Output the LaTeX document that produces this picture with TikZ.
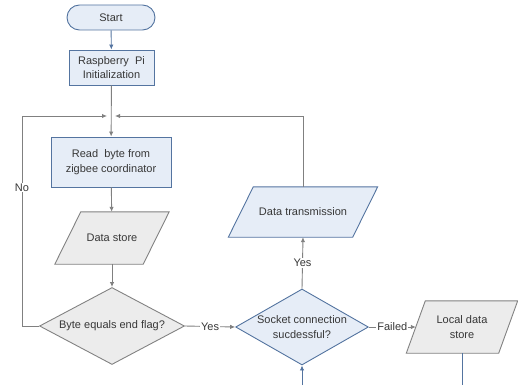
\documentclass[tikz,border=0pt]{standalone}
\usepackage{fontspec}
\setmainfont{Liberation Sans}
\usetikzlibrary{arrows.meta,shapes.geometric,backgrounds}
\definecolor{bblue}{RGB}{84,116,160}
\definecolor{fblue}{RGB}{230,237,247}
\definecolor{bgrey}{RGB}{130,130,130}
\definecolor{fgrey}{RGB}{236,236,236}
\definecolor{lgrey}{RGB}{128,128,128}
\definecolor{tgrey}{RGB}{55,55,55}
\tikzset{
  txt/.style={text=tgrey, font=\fontsize{11}{14.5}\selectfont, align=center, inner sep=0pt},
  bluebox/.style={txt, draw=bblue, fill=fblue, line width=0.9pt},
  greyshape/.style={draw=bgrey, fill=fgrey, line width=0.9pt},
  blueshape/.style={draw=bblue, fill=fblue, line width=0.9pt},
  diam/.style={txt, diamond, aspect=1.9, inner sep=0pt},
  conn/.style={draw=lgrey, line width=0.9pt, -{Latex[length=5pt,width=4.5pt]}},
  connb/.style={draw=bblue, line width=0.9pt, -{Latex[length=5pt,width=4.5pt]}},
  lab/.style={txt, fill=white, inner sep=1pt},
}
\begin{document}
\begin{tikzpicture}[x=1pt,y=-1pt]
\useasboundingbox (0,0) rectangle (518,385);
% nodes
\node[bluebox, rounded corners=12.5pt, minimum width=88pt, minimum height=25pt] (start) at (111,17.5) {Start};
\node[bluebox, minimum width=85pt, minimum height=35pt] (rpi) at (111.5,67.5) {Raspberry~ Pi\\Initialization};
\coordinate (m) at (112,116);
\node[bluebox, minimum width=120pt, minimum height=50pt] (read) at (111,162) {Read~ byte from\\zigbee coordinator};
\node[txt, minimum width=88pt, minimum height=52pt] (ds) at (112,238) {Data store};
\node[diam, draw=bgrey, fill=fgrey, line width=0.9pt, minimum width=145pt, minimum height=77pt] (flag) at (112,326) {Byte equals end flag?};
\node[diam, draw=bblue, fill=fblue, line width=0.9pt, minimum width=128pt, minimum height=76pt] (sock) at (302,327) {Socket connection\\sucdessful?};
\node[txt, minimum width=124pt, minimum height=50pt] (tx) at (303,212) {Data transmission};
\node[txt, minimum width=92pt, minimum height=52pt] (lds) at (462,327) {Local data\\store};
\coordinate (sockin) at (302,385);
\coordinate (ldsout) at (462,385);
\coordinate (noc) at (22,326);
% parallelograms on background
\begin{scope}[on background layer]
\draw[greyshape] ([xshift=13pt]ds.north west) -- ([xshift=13pt]ds.north east) -- ([xshift=-13pt]ds.south east) -- ([xshift=-13pt]ds.south west) -- cycle;
\draw[blueshape] ([xshift=12.5pt]tx.north west) -- ([xshift=12.5pt]tx.north east) -- ([xshift=-12.5pt]tx.south east) -- ([xshift=-12.5pt]tx.south west) -- cycle;
\draw[greyshape] ([xshift=9.5pt]lds.north west) -- ([xshift=9.5pt]lds.north east) -- ([xshift=-9.5pt]lds.south east) -- ([xshift=-9.5pt]lds.south west) -- cycle;
\end{scope}
% connectors
\draw[connb] (start) -- (rpi);
\draw[conn] (rpi) -- (read);
\draw[conn] (read) -- (ds);
\draw[conn] (ds) -- (flag);
\draw[conn] (flag.west) -- (noc) |- ([xshift=-5pt]m) node[lab, pos=0.33] {No};
\draw[conn] (tx.north) |- ([xshift=3pt]m);
\draw[conn] (flag.east) -- node[lab] {Yes} (sock.west);
\draw[conn] (sock.north) -- node[lab] {Yes} (tx.south);
\draw[conn] (sock.east) -- node[lab] {Failed} (lds.west);
\draw[connb] (sockin) -- (sock.south);
\draw[draw=bblue, line width=0.9pt] (lds.south) -- (ldsout);
\end{tikzpicture}
\end{document}
